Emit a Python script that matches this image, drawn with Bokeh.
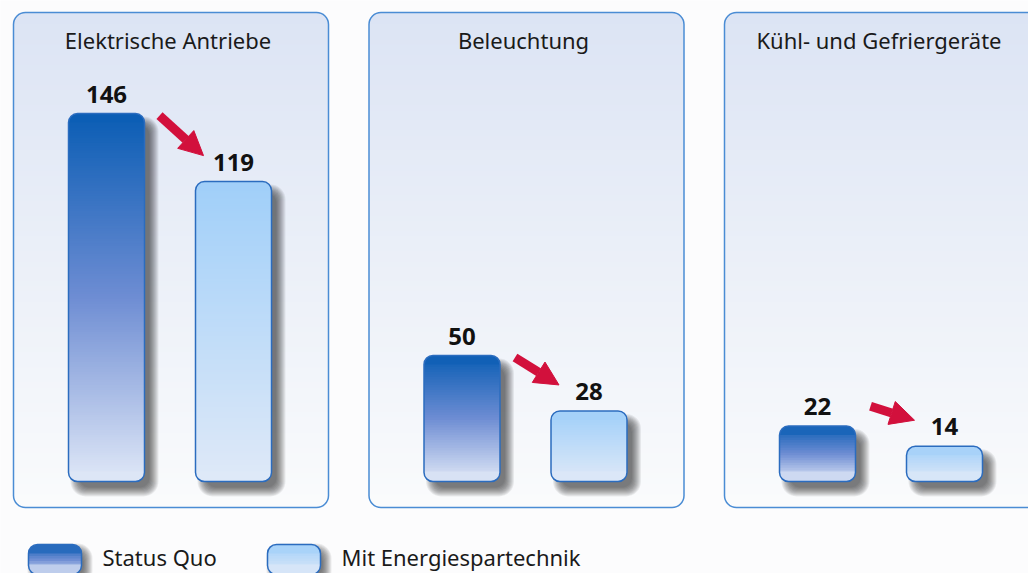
from bokeh.plotting import figure
from bokeh.models import Range1d, Arrow, NormalHead, ColumnDataSource
from bokeh.core.properties import value
from bokeh.embed import file_html
from bokeh.resources import INLINE

# ---------------- data ----------------
categories = ["Elektrische Antriebe", "Beleuchtung", "Kühl- und Gefriergeräte"]
status_quo = [146, 50, 22]
energiespar = [119, 28, 14]
series_names = ["Status Quo", "Mit Energiespartechnik"]

# ---------------- layout constants ----------------
W, H = 1028, 573
PX = 2.52          # pixels per unit
BASE = 481         # pixel row of value 0
PANEL_L0, PANEL_STEP, PANEL_W = 13, 355.5, 315
PANEL_TOP, PANEL_BOT = 12, 507
BAR_OFF = (55, 182)
BAR_W = 76
TXT_SHIFT = 0.43   # baseline correction (fraction of font size)

DARK = [(0, "#0a5db4"), (0.5, "#6e8dd3"), (1, "#e0e8f7")]
LIGHT = [(0, "#a0cff9"), (1, "#dfe9f8")]
PANEL = [(0, "#dce4f4"), (1, "#fafbfc")]
RED = "#d2103c"


def yd(py):
    return (BASE - py) / PX


def ypx(v):
    return BASE - v * PX


def ytext(baseline_px, fs):
    return yd(baseline_px - TXT_SHIFT * fs)


p = figure(width=W, height=H, x_range=Range1d(0, W),
           y_range=Range1d(yd(H), yd(0)),
           output_backend="svg", toolbar_location=None, min_border=0,
           x_axis_location=None, y_axis_location=None,
           background_fill_color="#fcfcfd", border_fill_color="#fcfcfd",
           outline_line_color=None)
p.xgrid.grid_line_color = None
p.ygrid.grid_line_color = None


def hex2rgb(h):
    h = h.lstrip("#")
    return tuple(int(h[i:i + 2], 16) for i in (0, 2, 4))


def grad(stops, t):
    t = min(max(t, 0.0), 1.0)
    for (p0, c0), (p1, c1) in zip(stops[:-1], stops[1:]):
        if t <= p1:
            u = (t - p0) / (p1 - p0) if p1 > p0 else 0
            a, b = hex2rgb(c0), hex2rgb(c1)
            return "#%02x%02x%02x" % tuple(round(a[k] + (b[k] - a[k]) * u) for k in range(3))
    return stops[-1][1]


def gbox(left, right, top, bottom, stops, r_px, line_color, line_width, step=1.0):
    r = r_px / PX
    ov = 0.35
    span = top - bottom
    p.quad(left=[left], right=[right], top=[top], bottom=[top - r - ov],
           fill_color=grad(stops, r / 2 / span), line_color=None,
           border_radius=(r_px, r_px, 0, 0))
    Ls, Rs, Ts, Bs, Cs = [], [], [], [], []
    y = top - r
    while y > bottom + r + 1e-9:
        yb = max(y - step, bottom + r)
        Ls.append(left); Rs.append(right); Ts.append(y)
        Bs.append(max(yb - ov, bottom + r))
        Cs.append(grad(stops, (top - (y + yb) / 2) / span))
        y = yb
    if Ls:
        src = ColumnDataSource(dict(l=Ls, r=Rs, t=Ts, b=Bs, c=Cs))
        p.quad(left="l", right="r", top="t", bottom="b", fill_color="c",
               line_color=None, source=src)
    p.quad(left=[left], right=[right], top=[bottom + r + ov], bottom=[bottom],
           fill_color=grad(stops, 1 - r / 2 / span), line_color=None,
           border_radius=(0, 0, r_px, r_px))
    if line_color:
        p.quad(left=[left], right=[right], top=[top], bottom=[bottom],
               fill_color=None, line_color=line_color, line_width=line_width,
               border_radius=r_px)


def shadow(left, right, top, bottom, r_px, dx=8, dy=9, alpha=0.065):
    for k in range(-3, 7):
        p.quad(left=[left + dx - k], right=[right + dx + k],
               top=[top - (dy - k) / PX], bottom=[bottom - (dy + k) / PX],
               fill_color="#000000", fill_alpha=alpha, line_color=None,
               border_radius=r_px + max(k, 0))


# ---------------- panels ----------------
for i, cat in enumerate(categories):
    L = PANEL_L0 + PANEL_STEP * i
    gbox(L, L + PANEL_W, yd(PANEL_TOP), yd(PANEL_BOT), PANEL, 12, "#4a8cd4", 1.5, step=2.0)

# ---------------- bars ----------------
for i, cat in enumerate(categories):
    L = PANEL_L0 + PANEL_STEP * i
    vals = [status_quo[i], energiespar[i]]
    for j, v in enumerate(vals):
        x0 = L + BAR_OFF[j]
        shadow(x0, x0 + BAR_W, v, 0, 9)
    for j, v in enumerate(vals):
        x0 = L + BAR_OFF[j]
        gbox(x0, x0 + BAR_W, v, 0, DARK if j == 0 else LIGHT, 9, "#2b6cbf", 1.5)

    # value labels
    p.text(x=[L + BAR_OFF[j] + BAR_W / 2 for j in range(2)],
           y=[ytext(ypx(v) - 9, 24) for v in vals], text=[str(v) for v in vals],
           text_align="center", text_baseline="alphabetic",
           text_font=value("Noto Sans"), text_font_style="bold",
           text_font_size="24px", text_color="#111111")

    # title
    p.text(x=[L + PANEL_W / 2 - 3], y=[ytext(49, 22)], text=[cat],
           text_align="center", text_baseline="alphabetic",
           text_font=value("Noto Sans"), text_font_size="22px",
           text_color="#1a1a1a")

    # arrow
    top1, top2 = ypx(vals[0]), ypx(vals[1])
    sx = L + BAR_OFF[0] + BAR_W + 15
    sy = min(top1 + 2, top2 - 40)
    ex = L + BAR_OFF[1] + 8
    ey = max(top2 - 26, sy + 14)
    p.add_layout(Arrow(end=NormalHead(size=24, fill_color=RED, line_color=RED, line_width=1),
                       x_start=sx, y_start=yd(sy), x_end=ex, y_end=yd(ey),
                       line_color=RED, line_width=9))

# ---------------- legend ----------------
leg_x = [28, 267]
for j, name in enumerate(series_names):
    x0 = leg_x[j]
    shadow(x0, x0 + 53, yd(544), yd(574), 9, dx=5, dy=5)
    gbox(x0, x0 + 53, yd(544), yd(574), DARK if j == 0 else LIGHT, 9, "#2b6cbf", 1.5)
    p.text(x=[x0 + 74], y=[ytext(566, 22)], text=[name], text_align="left",
           text_baseline="alphabetic", text_font=value("Noto Sans"),
           text_font_size="22px", text_color="#1a1a1a")

open("out.html", "w").write(file_html(p, INLINE))
